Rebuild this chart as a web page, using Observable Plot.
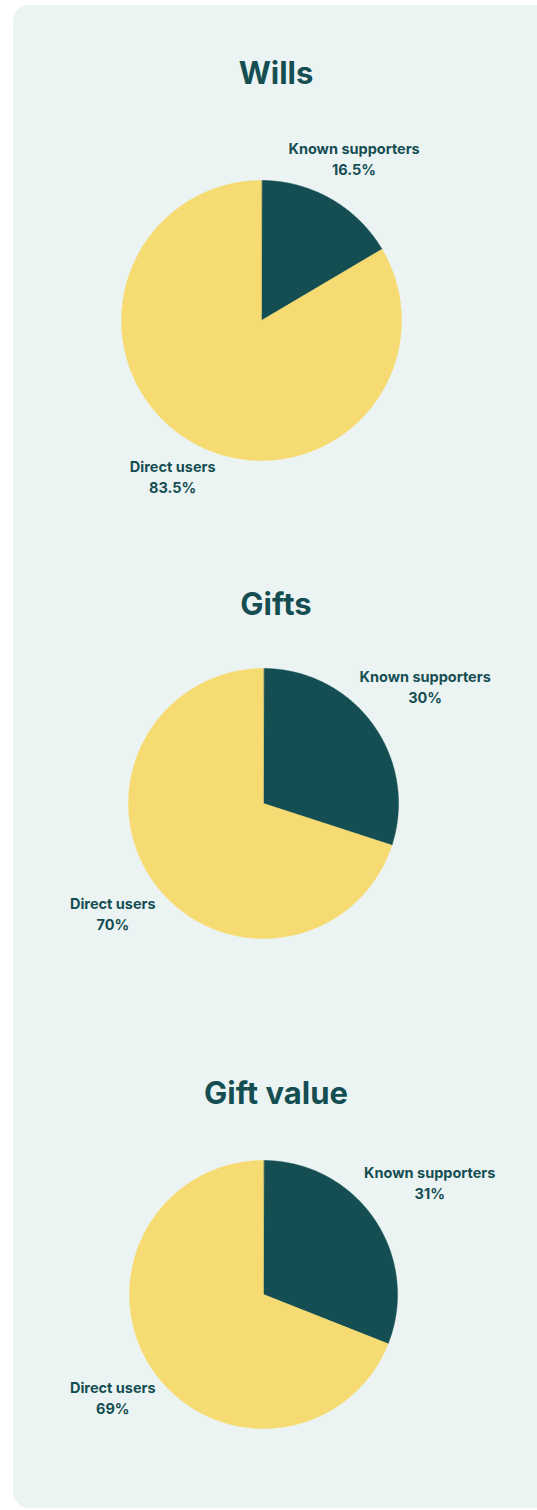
<!DOCTYPE html>
<html><head><meta charset="utf-8">
<script src="https://cdn.jsdelivr.net/npm/d3@7"></script>
<script src="https://cdn.jsdelivr.net/npm/@observablehq/plot@0.6"></script>
<style>
body{margin:0;background:#fff;font-family:Inter,sans-serif;width:537px;height:1510px;overflow:hidden;position:relative}
#card{position:absolute;left:13px;top:5px;width:540px;height:1503px;background:#ecf4f3;border-radius:16px;overflow:hidden}
.title{position:absolute;left:0;width:526px;text-align:center;margin:0;font:700 31px/36px Inter,sans-serif;letter-spacing:0px;color:#144e52}
.chart{position:absolute;left:0}
</style></head><body><div id="card"></div>
<script>
// ---- data ----
const chartTitles = ["Wills", "Gifts", "Gift value"];
const categories = ["Known supporters", "Direct users"];
const willsValues = [16.5, 83.5];
const giftsValues = [30, 70];
const giftValueValues = [31, 69];
const valueLabels = [["16.5%", "83.5%"], ["30%", "70%"], ["31%", "69%"]];
const seriesValues = [willsValues, giftsValues, giftValueValues];

// ---- layout (page pixels) ----
const layout = [
  {titleY: 73, cx: 261, cy: 320, r: 140, labelR: [1.335, 1.28]},
  {titleY: 604, cx: 263, cy: 803, r: 135, labelR: [1.48, 1.38]},
  {titleY: 1093, cx: 263, cy: 1294, r: 134, labelR: [1.50, 1.36]}
];
const colors = ["#144e52", "#f6db72"];
const ink = "#144e52";
const card = document.getElementById("card");
const OX = 13, OY = 5, W = 524, H = 440;

seriesValues.forEach((vals, i) => {
  const L = layout[i];
  const total = d3.sum(vals);
  const pts = [];
  const labels = [];
  let acc = 0;
  vals.forEach((v, j) => {
    const a0 = acc / total * 2 * Math.PI;
    acc += v;
    const a1 = acc / total * 2 * Math.PI;
    const n = Math.max(2, Math.ceil((a1 - a0) / 0.01));
    pts.push({cat: categories[j], x: 0, y: 0});
    for (let k = 0; k <= n; k++) {
      const a = a0 + (a1 - a0) * k / n;
      pts.push({cat: categories[j], x: Math.sin(a), y: Math.cos(a)});
    }
    const m = (a0 + a1) / 2;
    labels.push({cat: categories[j], text: categories[j] + "\n" + valueLabels[i][j],
      x: L.labelR[j] * Math.sin(m), y: L.labelR[j] * Math.cos(m)});
  });

  const t = document.createElement("div");
  t.className = "title";
  t.textContent = chartTitles[i];
  t.style.top = (L.titleY - OY - 18) + "px";
  card.appendChild(t);

  const top = L.cy - OY - H / 2;
  const px = L.cx - OX;
  const plot = Plot.plot({
    width: W, height: H,
    margin: 0,
    style: {background: "transparent", overflow: "visible"},
    x: {domain: [-1, 1], range: [px - L.r, px + L.r], axis: null},
    y: {domain: [-1, 1], range: [H / 2 + L.r, H / 2 - L.r], axis: null},
    color: {domain: categories, range: colors},
    marks: [
      Plot.line(pts, {x: "x", y: "y", z: "cat", fill: "cat", stroke: "cat", strokeWidth: 0.5, curve: "linear-closed"}),
      Plot.text(labels, {x: "x", y: "y", text: "text", fill: ink, fontSize: 14.5, fontWeight: 700,
        fontFamily: "Inter, sans-serif", lineHeight: 1.45, textAnchor: "middle", lineAnchor: "middle"})
    ]
  });
  const wrap = document.createElement("div");
  wrap.className = "chart";
  wrap.style.top = top + "px";
  wrap.appendChild(plot);
  card.appendChild(wrap);
});
</script>
</body></html>
